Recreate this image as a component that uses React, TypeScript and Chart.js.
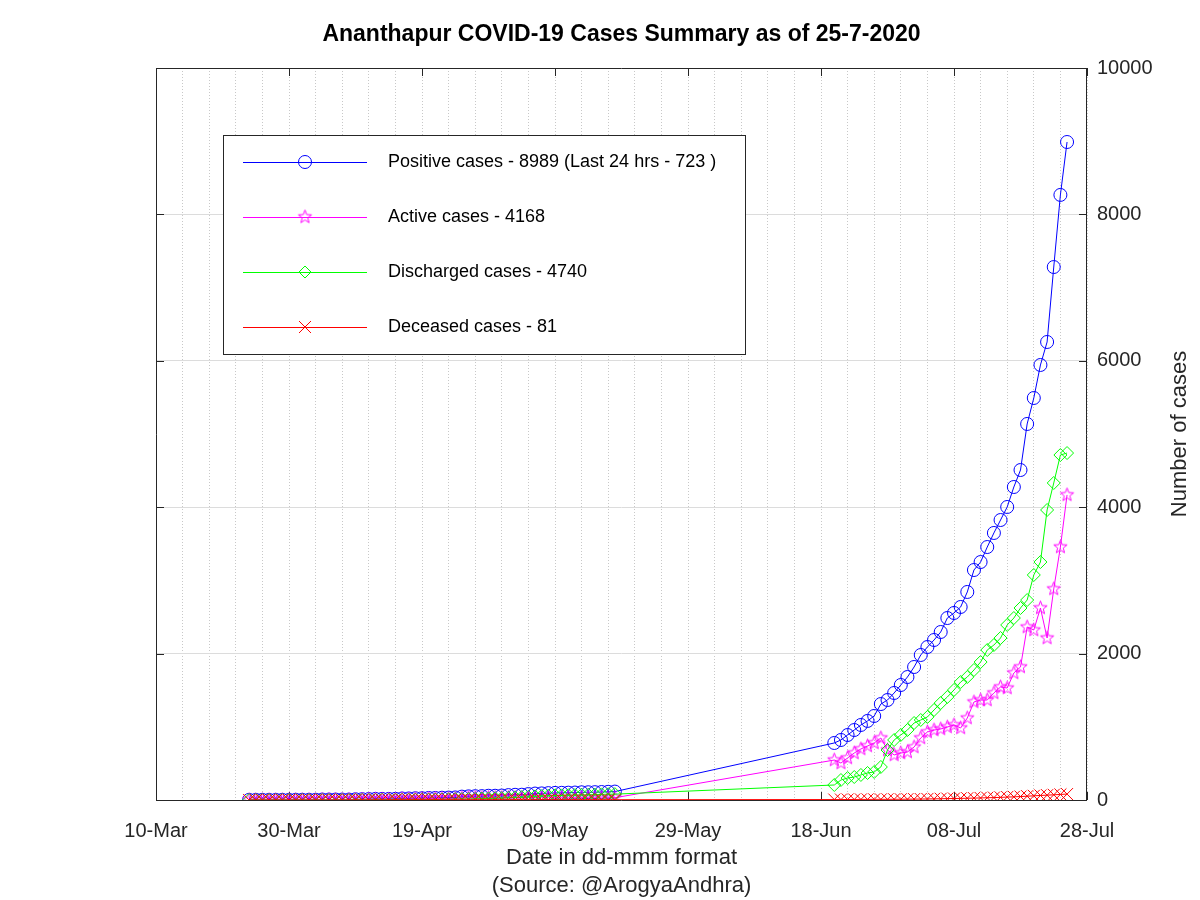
import React, { useEffect, useRef } from 'react';
import { Chart, registerables } from 'chart.js';

Chart.register(...registerables);

// ---------- data ----------
const seriesStart = '2020-03-10';
const segmentOne = ['2020-03-24', '2020-05-18'];
const segmentTwo = ['2020-06-20', '2020-07-25'];

const xTickLabels = ['10-Mar', '30-Mar', '19-Apr', '09-May', '29-May', '18-Jun', '08-Jul', '28-Jul'];
const yTickValues = [0, 2000, 4000, 6000, 8000, 10000];

const positiveCases = [
  2, 2, 2, 2, 2, 2, 2, 3,
  3, 3, 3, 6, 6, 6, 6, 6, 10, 11,
  13, 15, 15, 15, 16, 21, 21, 24, 24, 28,
  28, 31, 33, 35, 46, 50, 52, 53, 58, 58,
  61, 67, 71, 72, 81, 88, 90, 94, 97, 98,
  100, 102, 105, 106, 107, 109, 112, 115,
  779, 820, 888, 956, 1025, 1080, 1148, 1311, 1366, 1462,
  1571, 1680, 1817, 1981, 2090, 2186, 2295, 2486, 2555, 2637,
  2842, 3142, 3251, 3456, 3648, 3825, 4003, 4276, 4508, 5137,
  5492, 5943, 6257, 7281, 8266, 8989,
];

const activeCases = [
  2, 2, 2, 2, 2, 2, 2, 3,
  3, 3, 3, 6, 6, 6, 5, 5, 6, 7,
  9, 11, 9, 8, 8, 13, 12, 15, 15, 18,
  18, 19, 19, 19, 29, 32, 32, 29, 33, 31,
  32, 33, 34, 29, 34, 35, 32, 32, 31, 31,
  31, 31, 31, 31, 30, 28, 29, 31,
  546, 505, 574, 642, 697, 738, 779, 847, 683, 615,
  642, 656, 724, 847, 929, 956, 970, 997, 1025, 984,
  1120, 1339, 1366, 1366, 1462, 1544, 1530, 1735, 1817, 2363,
  2322, 2623, 2213, 2883, 3456, 4168,
];

const dischargedCases = [
  0, 0, 0, 0, 0, 0, 0, 0,
  0, 0, 0, 0, 0, 0, 0, 0, 2, 2,
  2, 2, 4, 4, 4, 4, 5, 5, 5, 6,
  6, 8, 10, 12, 13, 14, 16, 20, 21, 23,
  25, 30, 33, 39, 43, 49, 54, 58, 62, 63,
  65, 67, 70, 71, 73, 77, 79, 80,
  205, 273, 300, 314, 342, 369, 383, 451, 683, 820,
  888, 956, 1052, 1093, 1134, 1230, 1325, 1407, 1503, 1612,
  1680, 1776, 1885, 2049, 2117, 2213, 2391, 2486, 2623, 2732,
  3074, 3251, 3962, 4331, 4713, 4740,
];

const deceasedCases = [
  0, 0, 0, 0, 0, 0, 0, 0,
  0, 0, 0, 0, 0, 0, 1, 1, 2, 2,
  2, 2, 2, 3, 4, 4, 4, 4, 4, 4,
  4, 4, 4, 4, 4, 4, 4, 4, 4, 4,
  4, 4, 4, 4, 4, 4, 4, 4, 4, 4,
  4, 4, 4, 4, 4, 4, 4, 4,
  6, 6, 7, 7, 8, 8, 9, 9, 9, 10,
  10, 11, 12, 13, 14, 16, 17, 19, 20, 22,
  24, 26, 28, 31, 33, 36, 40, 43, 47, 52,
  57, 62, 66, 71, 76, 81,
];

const legendLabels = [
  'Positive cases - 8989 (Last 24 hrs - 723 )',
  'Active cases - 4168',
  'Discharged cases - 4740',
  'Deceased cases - 81',
];

const titleText = 'Ananthapur COVID-19 Cases Summary as of 25-7-2020';
const xTitle = ['Date in dd-mmm format', '(Source: @ArogyaAndhra)'];
const yTitle = 'Number of cases';

// ---------- helpers ----------
const DAY = 86400000;
function dateRange(from: string, to: string): string[] {
  const out: string[] = [];
  for (let t = Date.parse(from); t <= Date.parse(to); t += DAY) {
    out.push(new Date(t).toISOString().slice(0, 10));
  }
  return out;
}
const dates = [...dateRange(segmentOne[0], segmentOne[1]), ...dateRange(segmentTwo[0], segmentTwo[1])];
const dayIndex = (d: string) => Math.round((Date.parse(d) - Date.parse(seriesStart)) / DAY);
const toPoints = (vals: number[]) => dates.map((d, i) => ({ x: dayIndex(d), y: vals[i] }));

const FONT = '"Liberation Sans", Arial, Helvetica, sans-serif';
const BLUE = '#0000ff';
const MAGENTA = '#ff00ff';
const GREEN = '#00ff00';
const RED = '#ff0000';

function makeStar(color: string, r: number): HTMLCanvasElement {
  const c = document.createElement('canvas');
  const s = Math.ceil(r * 2 + 3);
  c.width = s;
  c.height = s;
  const g = c.getContext('2d')!;
  g.strokeStyle = color;
  g.lineWidth = 1;
  g.beginPath();
  for (let i = 0; i < 10; i++) {
    const ang = -Math.PI / 2 + (i * Math.PI) / 5;
    const rr = i % 2 === 0 ? r : r * 0.42;
    const px = s / 2 + rr * Math.cos(ang);
    const py = s / 2 + rr * Math.sin(ang);
    if (i === 0) g.moveTo(px, py);
    else g.lineTo(px, py);
  }
  g.closePath();
  g.stroke();
  return c;
}

export default function App() {
  const ref = useRef<HTMLCanvasElement | null>(null);

  useEffect(() => {
    if (!ref.current) return;
    const star = makeStar(MAGENTA, 7);

    const decor = {
      id: 'decor',
      beforeDatasetsDraw(chart: any) {
        const { ctx, chartArea: a } = chart;
        const xs = chart.scales.x;
        const ys = chart.scales.y;
        ctx.save();
        ctx.strokeStyle = '#262626';
        ctx.lineWidth = 1;
        ctx.beginPath();
        ctx.rect(Math.round(a.left) + 0.5, Math.round(a.top) + 0.5, Math.round(a.right - a.left) - 1, Math.round(a.bottom - a.top));
        ctx.stroke();
        const tl = 8;
        ctx.beginPath();
        xTickLabels.forEach((_, i) => {
          const px = Math.round(xs.getPixelForValue(i * 20)) + 0.5;
          ctx.moveTo(px, a.bottom);
          ctx.lineTo(px, a.bottom - tl);
          ctx.moveTo(px, a.top);
          ctx.lineTo(px, a.top + tl);
        });
        yTickValues.forEach((v) => {
          const py = Math.round(ys.getPixelForValue(v)) + 0.5;
          ctx.moveTo(a.left, py);
          ctx.lineTo(a.left + tl, py);
          ctx.moveTo(a.right, py);
          ctx.lineTo(a.right - tl, py);
        });
        ctx.stroke();
        ctx.restore();
      },
      afterDraw(chart: any) {
        const { ctx, chartArea: a } = chart;
        ctx.save();
        // title
        ctx.fillStyle = '#000';
        ctx.font = `bold 23px ${FONT}`;
        ctx.textAlign = 'center';
        ctx.textBaseline = 'middle';
        ctx.fillText(titleText, (a.left + a.right) / 2, 35);
        // y title (reads bottom-to-top)
        ctx.save();
        ctx.translate(1180, (a.top + a.bottom) / 2);
        ctx.rotate(-Math.PI / 2);
        ctx.font = `22px ${FONT}`;
        ctx.fillStyle = '#262626';
        ctx.fillText(yTitle, 0, 0);
        ctx.restore();
        // legend
        const bx = 223, by = 135, bw = 522, bh = 219;
        ctx.fillStyle = '#ffffff';
        ctx.fillRect(bx, by, bw, bh);
        ctx.strokeStyle = '#262626';
        ctx.lineWidth = 1;
        ctx.strokeRect(bx + 0.5, by + 0.5, bw, bh);
        const rows = [162, 217, 272, 327];
        const colors = [BLUE, MAGENTA, GREEN, RED];
        rows.forEach((ry, i) => {
          const c = colors[i];
          ctx.strokeStyle = c;
          ctx.lineWidth = 1;
          ctx.beginPath();
          ctx.moveTo(243, ry + 0.5);
          ctx.lineTo(367, ry + 0.5);
          ctx.stroke();
          const mx = 305;
          ctx.beginPath();
          if (i === 0) {
            ctx.arc(mx, ry, 6.5, 0, Math.PI * 2);
            ctx.stroke();
          } else if (i === 1) {
            ctx.drawImage(star, mx - star.width / 2, ry - star.height / 2);
          } else if (i === 2) {
            ctx.moveTo(mx, ry - 6);
            ctx.lineTo(mx + 6, ry);
            ctx.lineTo(mx, ry + 6);
            ctx.lineTo(mx - 6, ry);
            ctx.closePath();
            ctx.stroke();
          } else {
            ctx.moveTo(mx - 6, ry - 6);
            ctx.lineTo(mx + 6, ry + 6);
            ctx.moveTo(mx + 6, ry - 6);
            ctx.lineTo(mx - 6, ry + 6);
            ctx.stroke();
          }
          ctx.fillStyle = '#000';
          ctx.font = `18px ${FONT}`;
          ctx.textAlign = 'left';
          ctx.textBaseline = 'middle';
          ctx.fillText(legendLabels[i], 388, ry);
        });
        ctx.restore();
      },
    };

    const common = {
      borderWidth: 1,
      pointBorderWidth: 1,
      pointBackgroundColor: 'rgba(0,0,0,0)',
      tension: 0,
      fill: false,
    };

    const chart = new Chart(ref.current, {
      type: 'line',
      data: {
        datasets: [
          { ...common, label: legendLabels[3], data: toPoints(deceasedCases), borderColor: RED, pointBorderColor: RED, pointStyle: 'crossRot', pointRadius: 8.5 },
          { ...common, label: legendLabels[2], data: toPoints(dischargedCases), borderColor: GREEN, pointBorderColor: GREEN, pointStyle: 'rectRot', pointRadius: 6.5 },
          { ...common, label: legendLabels[1], data: toPoints(activeCases), borderColor: MAGENTA, pointBorderColor: MAGENTA, pointStyle: star as any, pointRadius: 7 },
          { ...common, label: legendLabels[0], data: toPoints(positiveCases), borderColor: BLUE, pointBorderColor: BLUE, pointStyle: 'circle', pointRadius: 6.5 },
        ],
      },
      options: {
        responsive: false,
        animation: false,
        devicePixelRatio: 1,
        events: [],
        layout: { padding: { left: 156, top: 68, right: 0, bottom: 0 } },
        plugins: {
          legend: { display: false },
          tooltip: { enabled: false },
          title: { display: false },
        },
        scales: {
          x: {
            type: 'linear',
            min: 0,
            max: 140,
            afterFit: (s: any) => { s.height = 100; },
            ticks: {
              stepSize: 4,
              autoSkip: false,
              maxRotation: 0,
              minRotation: 0,
              padding: 19,
              color: '#262626',
              font: { family: FONT, size: 20 },
              callback: (v: any) => (Number(v) % 20 === 0 ? xTickLabels[Number(v) / 20] : ''),
            },
            grid: { color: '#c8c8c8', lineWidth: 1, drawTicks: false },
            border: { display: false, dash: [1, 2] },
            title: {
              display: true,
              text: xTitle,
              color: '#262626',
              font: { family: FONT, size: 22, lineHeight: 1.2727 },
              padding: { top: 0, bottom: 0 },
            },
          },
          y: {
            type: 'linear',
            position: 'right',
            min: 0,
            max: 10000,
            afterFit: (s: any) => { s.width = 113; },
            ticks: {
              stepSize: 2000,
              padding: 10,
              color: '#262626',
              font: { family: FONT, size: 20 },
              callback: (v: any) => String(v),
            },
            grid: { color: '#dcdcdc', lineWidth: 1, drawTicks: false },
            border: { display: false },
          },
        },
      },
      plugins: [decor],
    });

    return () => chart.destroy();
  }, []);

  return (
    <div style={{ position: 'absolute', left: 0, top: 0, width: 1200, height: 900, background: '#fff' }}>
      <canvas ref={ref} width={1200} height={900} style={{ width: 1200, height: 900, display: 'block' }} />
    </div>
  );
}
